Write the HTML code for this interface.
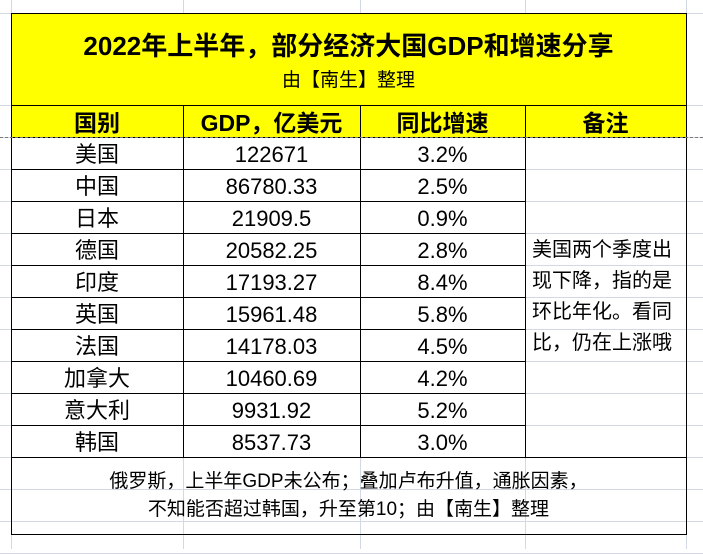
<!DOCTYPE html>
<html><head><meta charset="utf-8"><style>
body{margin:0;width:703px;height:549px;background:#fff;position:relative;overflow:hidden;font-family:"Liberation Sans","Noto Sans CJK SC",sans-serif;}
.g{position:absolute;background:#d4d8e4;}
.c{position:absolute;box-sizing:border-box;display:flex;align-items:center;justify-content:center;color:#000;}
.hl{position:absolute;background:#000;}
</style></head><body>
<div id="grid"></div>
<div class="c" style="left:11px;top:13px;width:675px;height:92px;background:#ffff00;flex-direction:column;">
 <div style="font-size:26px;font-weight:bold;margin-top:0px;white-space:nowrap;">2022年上半年，部分经济大国GDP和增速分享</div>
 <div style="font-size:19px;margin-top:2px;">由【南生】整理</div>
</div>
<div class="c" style="left:11px;top:105px;width:675px;height:32px;background:#ffff00;"></div>
<div id="tbl"></div>
<div class="c" style="left:525px;top:137px;width:161px;height:320px;justify-content:flex-start;padding-left:7px;font-size:20px;line-height:31px;">美国两个季度出<br>现下降，指的是<br>环比年化。看同<br>比，仍在上涨哦</div>
<div class="c" style="left:11px;top:457px;width:675px;height:77px;font-size:19px;line-height:28px;text-align:center;">俄罗斯，上半年GDP未公布；叠加卢布升值，通胀因素，<br>不知能否超过韩国，升至第10；由【南生】整理</div>
<script>
const countries=["美国","中国","日本","德国","印度","英国","法国","加拿大","意大利","韩国"];
const gdp=["122671","86780.33","21909.5","20582.25","17193.27","15961.48","14178.03","10460.69","9931.92","8537.73"];
const growth=["3.2%","2.5%","0.9%","2.8%","8.4%","5.8%","4.5%","4.2%","5.2%","3.0%"];
const headers=["国别","GDP，亿美元","同比增速","备注"];
const cols=[11,183,360,525,686];
const rowTop=137,rowH=32;
const t=document.getElementById('tbl');
function cell(x,y,w,h,txt,bold,pad){const d=document.createElement('div');d.className='c';d.style.cssText=`left:${x}px;top:${y}px;width:${w}px;height:${h}px;font-size:${bold?23:22}px;padding-top:${pad||0}px;${bold?'font-weight:bold;':''}`;d.textContent=txt;t.appendChild(d);return d;}
function line(x,y,w,h){const d=document.createElement('div');d.className='hl';d.style.cssText=`left:${x}px;top:${y}px;width:${w}px;height:${h}px;`;t.appendChild(d);return d;}
const g=document.getElementById('grid');
[13,105].concat(Array.from({length:14},(_, i)=>137+32*i)).forEach(y=>{const d=document.createElement('div');d.className='g';d.style.cssText=`left:0;top:${y}px;width:703px;height:1px;`;g.appendChild(d);});
cols.forEach(x=>{const d=document.createElement('div');d.className='g';d.style.cssText=`left:${x}px;top:0;width:1px;height:549px;`;g.appendChild(d);});
headers.forEach((h,i)=>{const d=cell(cols[i],105,cols[i+1]-cols[i],32,h,true);

});
countries.forEach((c,i)=>{const y=rowTop+i*rowH;
const a=cell(cols[0],y,cols[1]-cols[0],rowH,c);


const b=cell(cols[1],y,cols[2]-cols[1],rowH,gdp[i],false,4);


const e=cell(cols[2],y,cols[3]-cols[2],rowH,growth[i],false,4);


line(cols[0],y+rowH,cols[3]-cols[0],1);});
line(11,13,676,1);line(11,105,676,1);line(11,137,676,1);line(11,457,676,1);line(11,534,676,1);
line(11,13,1,522);line(686,13,1,522);
[183,360,525].forEach(x=>line(x,105,1,352));
const dl=document.createElement('div');dl.style.cssText='position:absolute;left:0;top:137px;width:703px;height:0;border-top:1px dashed #777;';


t.appendChild(dl);
</script>
</body></html>
